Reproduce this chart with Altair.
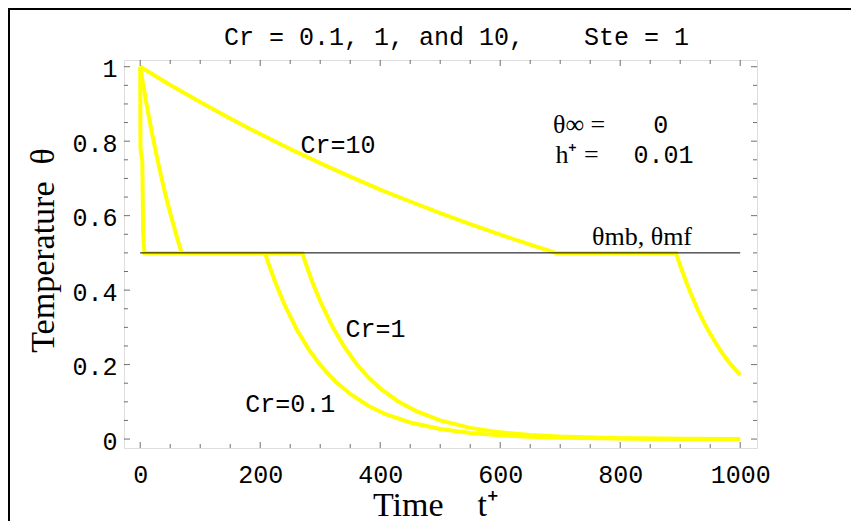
import altair as alt
import pandas as pd

# ---- data ----
cr01_t = [0, 0.5, 3.5, 5, 7, 208, 215, 225, 240, 260, 280, 300, 325, 350, 380, 410,
          450, 500, 550, 600, 650, 700, 800, 900, 1000]
cr01_v = [1, 0.78, 0.745, 0.55, 0.5, 0.5, 0.466, 0.422, 0.363, 0.297, 0.243, 0.199,
          0.155, 0.121, 0.0895, 0.066, 0.0445, 0.027, 0.016, 0.0099, 0.006, 0.0037,
          0.0013, 0.0005, 0.0002]

cr1_t = [0, 5, 10, 15, 20, 30, 40, 50, 60, 69, 270, 275, 285, 300, 320, 340, 360, 380,
         400, 430, 460, 500, 550, 600, 650, 700, 800, 900, 1000]
cr1_v = [1, 0.951, 0.905, 0.861, 0.819, 0.741, 0.670, 0.607, 0.549, 0.5, 0.5, 0.476,
         0.430, 0.370, 0.303, 0.248, 0.203, 0.166, 0.136, 0.101, 0.075, 0.050, 0.030,
         0.018, 0.011, 0.0068, 0.0025, 0.0009, 0.0003]

cr10_t = [0, 50, 100, 150, 200, 250, 300, 350, 400, 450, 500, 550, 600, 650, 693, 893,
          900, 910, 920, 930, 940, 950, 960, 970, 980, 990, 1000]
cr10_v = [1, 0.951, 0.905, 0.861, 0.819, 0.779, 0.741, 0.705, 0.670, 0.638, 0.607,
          0.577, 0.549, 0.522, 0.5, 0.5, 0.466, 0.422, 0.382, 0.345, 0.312, 0.283,
          0.256, 0.231, 0.209, 0.190, 0.172]

melt_t = [0, 1000]
melt_v = [0.5, 0.5]

x_labels = [0, 200, 400, 600, 800, 1000]
y_labels = [0, 0.2, 0.4, 0.6, 0.8, 1]
x_minor = [50, 100, 150, 250, 300, 350, 450, 500, 550, 650, 700, 750, 850, 900, 950]
y_minor = [0.05, 0.1, 0.15, 0.25, 0.3, 0.35, 0.45, 0.5, 0.55, 0.65, 0.7, 0.75,
           0.85, 0.9, 0.95]

mono_text = ["Cr=10", "Cr=1", "Cr=0.1", "0", "0.01"]
mono_t = [267, 342, 175, 855, 822]
mono_v = [0.769, 0.275, 0.0734, 0.821, 0.7405]

serif_text = ["θ∞ =", "h⁺ =", "θmb, θmf"]
serif_t = [688, 692, 753]
serif_v = [0.821, 0.7405, 0.521]

title_text = "Cr = 0.1, 1, and 10,\u00a0\u00a0\u00a0\u00a0Ste = 1"
x_title = "Time\u00a0\u00a0\u00a0\u00a0t⁺"
y_title = "Temperature\u00a0\u00a0θ"

# ---- tables ----
curves = pd.concat([
    pd.DataFrame({"t": cr01_t, "v": cr01_v, "s": "Cr=0.1"}),
    pd.DataFrame({"t": cr1_t, "v": cr1_v, "s": "Cr=1"}),
    pd.DataFrame({"t": cr10_t, "v": cr10_v, "s": "Cr=10"}),
], ignore_index=True)
melt = pd.DataFrame({"t": melt_t, "v": melt_v})
mono_df = pd.DataFrame({"t": mono_t, "v": mono_v, "label": mono_text})
serif_df = pd.DataFrame({"t": serif_t, "v": serif_v, "label": serif_text})

W, H = 633, 388
MONO = "Liberation Mono"
SERIF = "Liberation Serif"
FRAME = "#333333"

xscale = alt.Scale(domain=[-27, 1028], nice=False, zero=False)
yscale = alt.Scale(domain=[-0.024, 1.018], nice=False, zero=False)

xaxis = alt.Axis(values=x_labels, format="d", domain=False, ticks=False, tickSize=0,
                 grid=False, labelFont=MONO, labelFontSize=25, labelColor="black",
                 labelBaseline="alphabetic", labelPadding=34, labelAlign="center",
                 titleFont=SERIF, titleFontSize=34, titleFontWeight="normal",
                 titleColor="black", titleX=311, titleY=67, titleAlign="center",
                 titleBaseline="alphabetic")
yaxis = alt.Axis(values=y_labels, format="~g", domain=False, ticks=False, tickSize=0,
                 grid=False, labelFont=MONO, labelFontSize=25, labelColor="black",
                 labelBaseline="middle", labelAlign="right", labelPadding=7,
                 labelOffset=2,
                 titleFont=SERIF, titleFontSize=34, titleFontWeight="normal",
                 titleColor="black", titleX=-71, titleY=190, titleAngle=270,
                 titleAlign="center", titleBaseline="alphabetic")

X = alt.X("t:Q", scale=xscale, axis=xaxis, title=x_title)
Y = alt.Y("v:Q", scale=yscale, axis=yaxis, title=y_title)

lines = alt.Chart(curves).mark_line(color="#FFFF00", strokeWidth=4).encode(
    x=X, y=Y, detail="s:N")
melt_line = alt.Chart(melt).mark_line(color="black", strokeWidth=1).encode(x=X, y=Y)

mono = alt.Chart(mono_df).mark_text(font=MONO, fontSize=25, align="left",
                                    baseline="alphabetic", color="black").encode(
    x=X, y=Y, text="label:N")
serif = alt.Chart(serif_df).mark_text(font=SERIF, fontSize=26, align="left",
                                      baseline="alphabetic", color="black").encode(
    x=X, y=Y, text="label:N")

def xticks(vals, size, ypos):
    return alt.Chart(pd.DataFrame({"t": vals})).mark_tick(
        clip=True, size=size, thickness=1, color=FRAME).encode(x=X, y=alt.value(ypos))

def yticks(vals, size, xpos):
    return alt.Chart(pd.DataFrame({"v": vals})).mark_tick(
        clip=True, size=size, thickness=1, color=FRAME).encode(y=Y, x=alt.value(xpos))

tick_layers = [
    xticks(x_labels, 12, H), xticks(x_minor, 8, H),
    xticks(x_labels, 12, 0), xticks(x_minor, 8, 0),
    yticks(y_labels, 12, 0), yticks(y_minor, 8, 0),
    yticks(y_labels, 12, W), yticks(y_minor, 8, W),
]

one_df = pd.DataFrame({"k": [0]})
border_top = alt.Chart(one_df).mark_rule(color="black", strokeWidth=2).encode(
    x=alt.value(-116), x2=alt.value(W + 94), y=alt.value(-51))
border_left = alt.Chart(one_df).mark_rule(color="black", strokeWidth=2).encode(
    x=alt.value(-115), y=alt.value(-52), y2=alt.value(H + 73))
title = alt.Chart(one_df).mark_text(font=MONO, fontSize=25, align="center",
                                    baseline="alphabetic", color="black").encode(
    x=alt.value(W / 2 + 16), y=alt.value(-15), text=alt.value(title_text))

chart = alt.layer(
    lines, melt_line, mono, serif, *tick_layers, border_top, border_left, title
).properties(
    width=W, height=H,
    autosize=alt.AutoSizeParams(type="none"),
    padding={"left": 116, "top": 52, "right": 94, "bottom": 73},
).configure_view(stroke=FRAME, strokeWidth=1).configure(background="white")

chart.save("out.html", embed_options={"renderer": "svg", "actions": False})
